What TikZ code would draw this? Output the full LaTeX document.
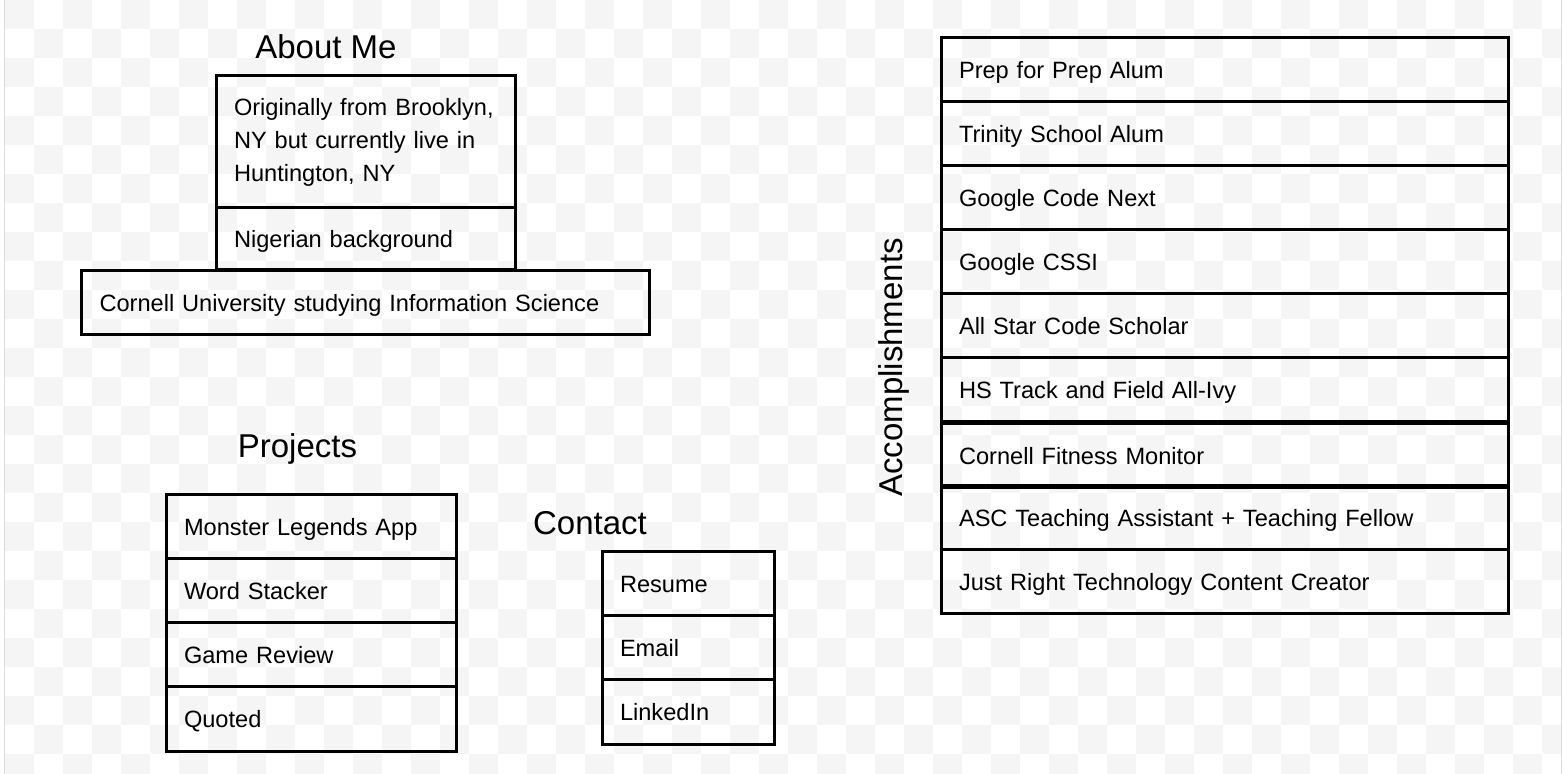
\documentclass[tikz,border=0pt]{standalone}
\usepackage{fontspec}
\setmainfont{Liberation Sans}
\usepackage{tikz}
\usetikzlibrary{positioning}
\definecolor{checker}{HTML}{F5F5F5}
\definecolor{edge}{HTML}{DADCE0}
\newcommand{\bodyfont}{\fontsize{11.8}{16.5}\selectfont}
\newcommand{\headfont}{\fontsize{16.5}{20}\selectfont}
\tikzstyle{every node}+=[inner sep=0pt]
\tikzstyle{item} = [rectangle, draw, line width=1.5pt, font=\bodyfont, align=left, minimum height=32pt, inner xsep=9pt, node distance=32pt]
\tikzstyle{line1} = [text height=8.45pt, text depth=0pt]
\tikzstyle{about} = [item, text width=131.5pt]
\tikzstyle{project} = [item, line1, text width=127pt]
\tikzstyle{contact} = [item, line1, text width=68pt]
\tikzstyle{award} = [item, line1, text width=265.5pt]
\tikzstyle{heading} = [font=\headfont, anchor=base]

\begin{document}
\begin{tikzpicture}[x=0.5pt, y=-0.5pt]
            \useasboundingbox (0,0) rectangle (1564,774);
            % Background
            \begin{scope}
            \clip (4,0) rectangle (1561,774);
            \foreach \i in {0,...,53} {
              \foreach \j in {0,...,26} {
                \pgfmathtruncatemacro\odd{mod(\i+\j,2)}
                \ifnum\odd=0 \fill[checker] (5+29*\i,29*\j) rectangle ++(29,29); \fi
              }
            }
            \end{scope}
            \draw[edge, line width=0.5pt] (4,0) -- (4,774);
            \draw[edge, line width=0.5pt] (1561,0) -- (1561,774);
            % About me
            \node [heading] (hAbout) at (326,59) {About Me};
            \node [about, minimum height=66pt] (m0) at (365.5,142) {Originally from Brooklyn,\\NY but currently live in\\Huntington, NY};
            \node [about, line1, below of=m0, node distance=48.5pt, minimum height=31pt] (m1) {Nigerian background};
            \node [item, line1, below of=m1, text width=266pt] (m2) {Cornell University studying Information Science};
            % Projects
            \node [heading] (hProjects) at (297.5,458) {Projects};
            \node [project] (p0) at (311,527) {Monster Legends App};
            \node [project, below of=p0] (p1) {Word Stacker};
            \node [project, below of=p1] (p2) {Game Review};
            \node [project, below of=p2] (p3) {Quoted};
            % Contact
            \node [heading] (hContact) at (590,535) {Contact};
            \node [contact] (c0) at (688,584) {Resume};
            \node [contact, below of=c0] (c1) {Email};
            \node [contact, below of=c1] (c2) {LinkedIn};
            % Accomplishments
            \node [heading, rotate=90] (hAwards) at (902,367.5) {Accomplishments};
            \node [award] (a0) at (1224.5,70) {Prep for Prep Alum};
            \node [award, below of=a0] (a1) {Trinity School Alum};
            \node [award, below of=a1] (a2) {Google Code Next};
            \node [award, below of=a2] (a3) {Google CSSI};
            \node [award, below of=a3] (a4) {All Star Code Scholar};
            \node [award, below of=a4] (a5) {HS Track and Field All-Ivy};
            \node [award, below of=a5, node distance=33pt] (a6) {Cornell Fitness Monitor};
            \node [award, below of=a6, node distance=31pt] (a7) {ASC Teaching Assistant + Teaching Fellow};
            \node [award, below of=a7] (a8) {Just Right Technology Content Creator};
            \end{tikzpicture}
\end{document}
